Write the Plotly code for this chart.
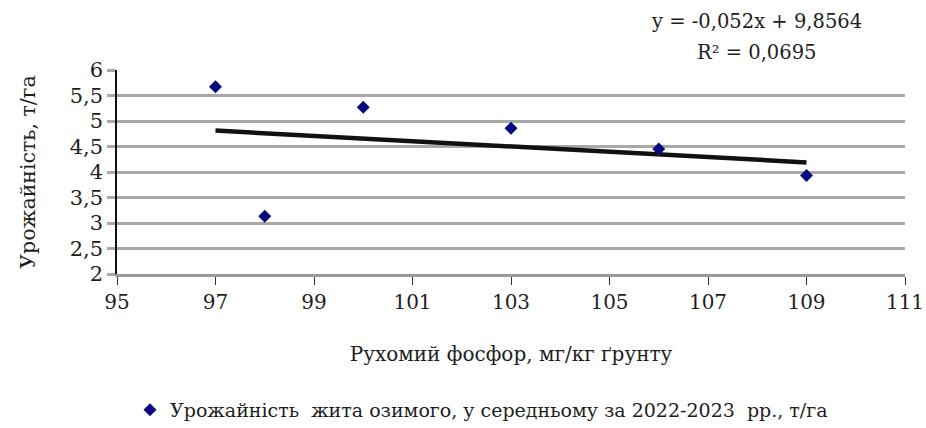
import plotly.graph_objects as go

# Рухомий фосфор (мг/кг) та урожайність жита озимого (т/га)
phosphorus = [97, 98, 100, 103, 106, 109]
yield_rye = [5.67, 3.13, 5.27, 4.86, 4.45, 3.93]

# Лінійний тренд, як у підписі рівняння
slope = -0.052
intercept = 9.8564
r_squared = 0.0695
trend_x = [min(phosphorus), max(phosphorus)]
trend_y = [slope * x + intercept for x in trend_x]

x_ticks = [95, 97, 99, 101, 103, 105, 107, 109, 111]
y_ticks = [2, 2.5, 3, 3.5, 4, 4.5, 5, 5.5, 6]
y_tick_text = ["2", "2,5", "3", "3,5", "4", "4,5", "5", "5,5", "6"]

FONT = "DejaVu Serif"
TXT = "#1e1e1e"

fig = go.Figure()
fig.add_trace(go.Scatter(
    x=trend_x, y=trend_y, mode="lines",
    line=dict(color="#111111", width=4.5),
    showlegend=False, hoverinfo="skip",
))
fig.add_trace(go.Scatter(
    x=phosphorus, y=yield_rye, mode="markers",
    marker=dict(symbol="diamond", size=10, color="#0a0a80"),
    name="Урожайність  жита озимого, у середньому за 2022-2023  рр., т/га",
))

eq_text = f"y = {str(slope).replace('.', ',')}x + {str(intercept).replace('.', ',')}"
r2_text = f"R² = {str(r_squared).replace('.', ',')}"
for txt, ypix in [(eq_text, 22), (r2_text, 52)]:
    fig.add_annotation(
        x=(756 - 117) / 788, y=(274 - ypix) / 204,
        xref="paper", yref="paper", showarrow=False,
        xanchor="center", yanchor="middle",
        text=txt, font=dict(family=FONT, size=19.5, color=TXT),
    )

fig.update_layout(
    width=926, height=428,
    margin=dict(l=117, r=21, t=70, b=154),
    paper_bgcolor="white", plot_bgcolor="white",
    font=dict(family=FONT, size=18, color=TXT),
    showlegend=True,
    legend=dict(
        orientation="h", x=0.52, xref="container", xanchor="center",
        y=1 - 410 / 428, yref="container", yanchor="middle",
        font=dict(family=FONT, size=19, color=TXT),
        itemwidth=30,
    ),
    xaxis=dict(
        range=[95, 111], tickvals=x_ticks, automargin=False,
        showgrid=False, zeroline=False,
        showline=True, linecolor="#9a9a9a", linewidth=3,
        ticks="outside", ticklen=8, tickcolor="#333", tickwidth=1,
        tickfont=dict(family=FONT, size=20, color=TXT),
        title=dict(text="Рухомий фосфор, мг/кг ґрунту",
                   font=dict(family=FONT, size=20, color=TXT), standoff=34),
    ),
    yaxis=dict(
        range=[2, 6], tickvals=y_ticks, ticktext=y_tick_text, automargin=False,
        showgrid=True, gridcolor="#a8a8a8", gridwidth=3,
        zeroline=False,
        showline=True, linecolor="#111", linewidth=1.5,
        ticks="outside", ticklen=8, tickcolor="#a8a8a8", tickwidth=3,
        tickfont=dict(family=FONT, size=21, color=TXT),
        title=dict(text="Урожайність, т/га",
                   font=dict(family=FONT, size=20.5, color=TXT), standoff=28),
    ),
)

fig.write_html("out.html")
